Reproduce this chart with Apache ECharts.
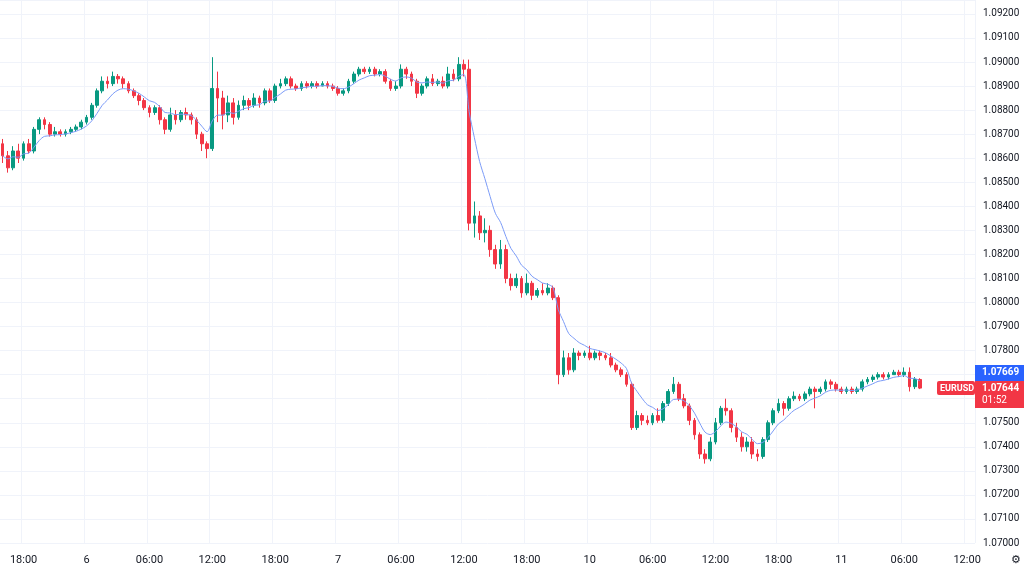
<!DOCTYPE html>
<html>
<head>
<meta charset="utf-8">
<script src="https://cdn.jsdelivr.net/npm/echarts@6/dist/echarts.min.js"></script>
<style>
  html, body { margin: 0; padding: 0; background: #fff; }
  #chart { width: 1024px; height: 571px; }
</style>
</head>
<body>
<div id="chart"></div>
<script>
// EURUSD 30m candles, values in pips above 1.0700: [open, close, low, high]
const candlesPips = [
  [166,161,158,168],[161,156,154,163],[156,163,155,165],[163,160,158,166],[160,166,159,167],
  [166,163,162,168],[163,172,162,173],[172,176,170,177],[176,174,172,177],[174,170,169,175],
  [170,171,169,173],[171,170,169,172],[170,171,169,172],[171,172,170,173],[172,173,171,174],
  [173,175,172,176],[175,177,174,178],[177,182,176,183],[182,188,181,189],[188,192,187,194],
  [192,191,189,194],[191,194,190,196],[194,193,191,195],[193,191,189,194],[191,188,187,192],
  [188,186,185,189],[186,184,182,187],[184,181,180,185],[181,179,177,182],[179,181,178,182],
  [181,176,174,182],[176,172,170,177],[172,178,171,181],[178,176,174,180],[176,179,175,180],
  [179,178,176,181],[178,176,174,179],[176,170,168,177],[170,166,163,171],[166,164,160,167],
  [164,189,163,202],[189,185,175,196],[185,178,172,188],[178,183,175,186],[183,177,174,185],
  [177,182,176,184],[182,184,180,186],[184,182,180,185],[182,185,181,187],[185,183,181,186],
  [183,188,182,189],[188,184,183,189],[184,190,183,191],[190,191,189,193],[191,193,190,194],
  [193,190,189,194],[190,189,188,191],[189,191,188,192],[191,190,189,192],[190,191,189,192],
  [191,190,189,192],[190,191,190,192],[191,190,189,192],[190,189,188,191],[189,187,186,190],
  [187,188,186,189],[188,192,187,193],[192,195,191,196],[195,197,194,198],[197,196,195,198],
  [196,197,195,198],[197,195,194,198],[195,196,194,197],[196,192,191,197],[192,189,188,193],
  [189,190,188,192],[190,197,189,199],[197,195,193,198],[195,192,190,196],[192,187,185,193],
  [187,190,186,191],[190,193,189,194],[193,191,190,195],[191,192,190,193],[192,190,189,194],
  [190,195,189,198],[195,193,192,197],[193,199,192,202],[199,197,194,201],[197,133,130,201],
  [133,136,127,142],[136,129,126,138],[129,130,125,135],[130,122,119,132],[122,116,114,124],
  [116,122,114,126],[122,110,108,124],[110,107,105,112],[107,110,106,112],[110,104,102,111],
  [104,108,103,112],[108,103,101,109],[103,105,102,106],[105,104,103,108],[104,106,103,108],
  [106,102,101,107],[102,70,66,103],[70,77,69,80],[77,72,70,79],[72,79,71,81],
  [79,78,76,80],[78,79,77,80],[79,77,76,82],[77,79,76,80],[79,78,76,80],
  [78,77,76,79],[77,74,73,79],[74,72,71,75],[72,70,69,73],[70,66,65,71],
  [66,48,47,67],[48,53,47,55],[53,51,49,54],[51,50,49,53],
  [50,53,49,54],[53,51,50,56],[51,58,50,59],[58,63,57,64],[63,66,62,69],
  [66,60,59,67],[60,57,56,62],[57,51,49,58],[51,45,43,52],[45,37,35,46],
  [37,35,33,39],[35,42,34,44],[42,50,41,52],[50,56,49,57],[56,55,53,60],
  [55,48,46,56],[48,44,42,50],[44,40,38,46],[40,42,38,44],[42,37,35,44],
  [37,36,34,39],[36,43,35,44],[43,50,42,51],[50,55,49,56],[55,58,54,60],
  [58,56,53,59],[56,60,55,61],[60,61,59,63],[61,60,59,62],[60,62,59,63],
  [62,64,61,65],[64,63,56,65],[63,64,62,65],[64,67,63,68],[67,66,64,68],
  [66,64,63,67],[64,63,62,65],[63,64,62,65],[64,63,62,65],[63,64,62,65],
  [64,67,63,68],[67,68,66,69],[68,69,67,70],[69,70,68,71],[70,69,68,71],
  [69,70,68,71],[70,71,70,72],[71,70,69,72],[70,71,69,73],[71,65,63,73],
  [65,68,64,69],[68,64.4,64,68.5]
];
const basePrice = 1.07;
const lastPrice = 1.07644;
const maLastPrice = 1.07669;
// 1.076 and 1.077 sit under the price tags
const priceTicks = [1.070, 1.071, 1.072, 1.073, 1.074, 1.075, 1.078, 1.079, 1.080,
  1.081, 1.082, 1.083, 1.084, 1.085, 1.086, 1.087, 1.088, 1.089, 1.090, 1.091, 1.092];

// time labels per bar (only label bars carry text)
const tickLabels = {
  4: '18:00', 16: '6', 28: '06:00', 40: '12:00', 52: '18:00', 64: '7', 76: '06:00', 88: '12:00',
  100: '18:00', 112: '10', 124: '06:00', 136: '12:00', 148: '18:00', 160: '11', 172: '06:00', 184: '12:00'
};
const barCount = 186;
const categories = [];
for (let i = 0; i < barCount; i++) categories.push(tickLabels[i] || '');

const kData = candlesPips.map(c => c.map(v => +(basePrice + v / 10000).toFixed(5)));

// moving average indicator line
const maLen = 7;
const maData = [];
let ema = null;
kData.forEach(c => {
  ema = ema === null ? c[1] : ema + (c[1] - ema) * 2 / (maLen + 1);
  maData.push(+ema.toFixed(5));
});

const up = '#089981', down = '#F23645';
const chart = echarts.init(document.getElementById('chart'));
const showTick = (i) => !!tickLabels[i];

chart.setOption({
  animation: false,
  grid: { left: 0, right: 49, top: 0, bottom: 28 },
  xAxis: {
    type: 'category',
    data: categories,
    boundaryGap: true,
    axisLine: { show: false },
    axisTick: { show: false },
    axisLabel: { interval: (i) => showTick(i), color: '#131722', fontSize: 11, margin: 12,
      fontFamily: 'Roboto, sans-serif', hideOverlap: false },
    splitLine: { show: true, interval: (i) => showTick(i), lineStyle: { color: '#f0f3fa' } }
  },
  yAxis: {
    type: 'value',
    position: 'right',
    min: 1.07,
    max: 1.092578,
    interval: 0.001,
    axisLine: { show: false },
    axisTick: { show: false },
    axisLabel: { color: '#131722', fontSize: 10, margin: 8, fontFamily: 'Roboto, sans-serif',
      formatter: v => priceTicks.some(t => Math.abs(t - v) < 1e-7) ? v.toFixed(5) : '' },
    splitLine: { lineStyle: { color: '#f0f3fa' } }
  },
  series: [
    {
      type: 'candlestick',
      data: kData,
      barWidth: '62%',
      itemStyle: { color: up, color0: down, borderColor: up, borderColor0: down, borderWidth: 1 }
    },
    {
      type: 'line',
      data: maData,
      showSymbol: false,
      smooth: 0.3,
      lineStyle: { color: '#7b9bf7', width: 1 }
    }
  ]
});

// price tags on the right scale (MA tag is pushed up so the two don't overlap)
const yLast = chart.convertToPixel({ yAxisIndex: 0 }, lastPrice);
const yMa = Math.min(chart.convertToPixel({ yAxisIndex: 0 }, maLastPrice), yLast - 15);
const tagFont = 'Roboto, sans-serif';
chart.setOption({
  graphic: [
    { type: 'rect', z: 100, shape: { x: 975, y: yMa - 8, width: 49, height: 16 }, style: { fill: '#2962FF' } },
    { type: 'text', z: 101, x: 982, y: yMa - 6, style: { text: maLastPrice.toFixed(5), fill: '#fff', fontSize: 10, fontFamily: tagFont, fontWeight: 'bold' } },
    { type: 'rect', z: 100, shape: { x: 975, y: yLast - 7, width: 49, height: 27 }, style: { fill: down } },
    { type: 'text', z: 101, x: 982, y: yLast - 5, style: { text: lastPrice.toFixed(5), fill: '#fff', fontSize: 10, fontFamily: tagFont, fontWeight: 'bold' } },
    { type: 'text', z: 101, x: 982, y: yLast + 7, style: { text: '01:52', fill: '#fff', fontSize: 10, fontFamily: tagFont } },
    { type: 'rect', z: 100, shape: { x: 937, y: yLast - 7, width: 38, height: 14, r: 2 }, style: { fill: down } },
    { type: 'text', z: 101, x: 940, y: yLast - 4, style: { text: 'EURUSD', fill: '#fff', fontSize: 9, fontFamily: tagFont, fontWeight: 'bold' } },
    { type: 'text', z: 101, x: 1011, y: 554, style: { text: '⚙', fill: '#131722', fontSize: 11 } }
  ]
});
</script>
</body>
</html>
